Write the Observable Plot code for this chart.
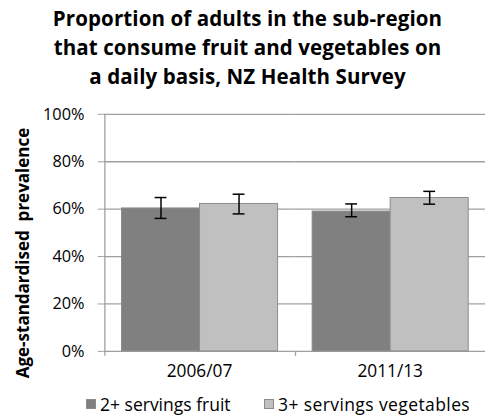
<!DOCTYPE html>
<html>
<head>
<meta charset="utf-8">
<script src="https://cdn.jsdelivr.net/npm/d3@7"></script>
<script src="https://cdn.jsdelivr.net/npm/@observablehq/plot@0.6"></script>
<style>
  html, body { margin: 0; padding: 0; background: #fff; overflow: hidden; }
  #wrap { position: relative; width: 485px; height: 419px; overflow: hidden; font-family: "Open Sans", Lato, sans-serif; color: #000; }
  #title { position: absolute; left: 0; top: 4px; width: 495px; text-align: center; font-weight: bold; font-size: 20.5px; line-height: 29px; letter-spacing: 0.1px; }
  #ylabel { position: absolute; left: 22px; top: 253px; transform: translate(-50%, -50%) rotate(-90deg); white-space: pre; font-weight: bold; font-size: 17px; }
  #chart { position: absolute; left: 0; top: 100px; }
  #legend { position: absolute; top: 393px; left: 0; width: 485px; height: 24px; font-size: 17.5px; line-height: 22px; white-space: nowrap; }
  .item { position: absolute; top: 0; display: flex; align-items: center; }
  .sw { display: inline-block; width: 8px; height: 8px; margin-right: 4px; border: 1px solid #8c8c8c; }
</style>
</head>
<body>
<div id="wrap">
  <div id="title">Proportion of adults in the sub-region<br>that consume fruit and vegetables on<br>a daily basis, NZ Health Survey</div>
  <div id="ylabel">Age-standardised  prevalence</div>
  <div id="chart"></div>
  <div id="legend"></div>
</div>
<script>
const periods = ["2006/07", "2011/13"];
const series = ["2+ servings fruit", "3+ servings vegetables"];
const colors = ["#808080", "#c0c0c0"];
// values (proportions) per period, per series
const fruitValues = [0.603, 0.590];
const vegValues = [0.622, 0.647];
const fruitLow = [0.561, 0.568];
const fruitHigh = [0.649, 0.622];
const vegLow = [0.580, 0.621];
const vegHigh = [0.663, 0.675];
const yTicks = [0, 0.2, 0.4, 0.6, 0.8, 1.0];

const data = [];
periods.forEach((p, i) => {
  data.push({period: p, series: series[0], value: fruitValues[i], lo: fruitLow[i], hi: fruitHigh[i]});
  data.push({period: p, series: series[1], value: vegValues[i], lo: vegLow[i], hi: vegHigh[i]});
});

const grid = "#a0a0a0";
const W = 491, ML = 105, MR = 0;
const xPadOuter = 0.216;
// band geometry within one facet, to put tick marks at the category boundaries
const facetWidth = (W - ML - MR) / periods.length;
const inner = d3.scaleBand().domain(series).range([0, facetWidth]).paddingInner(0).paddingOuter(xPadOuter);
const boundaryDx = -(inner(series[0]) + inner.bandwidth() / 2);

const chart = Plot.plot({
  width: W,
  height: 294,
  marginTop: 14,
  marginBottom: 40,
  marginLeft: ML,
  marginRight: MR,
  style: {fontFamily: "'Open Sans', Lato, sans-serif", fontSize: "16px", color: "#000", background: "transparent"},
  fx: {domain: periods, padding: 0, label: null},
  x: {domain: series, paddingInner: 0, paddingOuter: xPadOuter, axis: null},
  y: {domain: [0, 1], label: null},
  color: {domain: series, range: colors},
  marks: [
    Plot.ruleY(yTicks.slice(1), {stroke: grid, strokeWidth: 1.3}),
    Plot.ruleY([0], {stroke: grid, strokeWidth: 1.3}),
    // category boundary ticks below the axis
    Plot.ruleX(periods, {fx: d => d, x: () => series[0], dx: boundaryDx, stroke: grid, strokeWidth: 1.3, insetTop: 240, insetBottom: -5}),
    // y axis line (first facet only)
    Plot.ruleX([periods[0]], {fx: d => d, x: () => series[0], dx: boundaryDx, y1: 0, y2: 1, stroke: grid, strokeWidth: 1.3}),
    Plot.axisY({ticks: yTicks, tickFormat: d3.format(".0%"), tickSize: 6, tickPadding: 14, stroke: grid, fontSize: 16.5, label: null}),
    Plot.axisFx({anchor: "bottom", tickSize: 0, tickPadding: 14, fontSize: 17.5, label: null}),
    Plot.barY(data, {fx: "period", x: "series", y: "value", fill: "series", stroke: "#8c8c8c", strokeWidth: 1}),
    Plot.ruleX(data, {fx: "period", x: "series", y1: "lo", y2: "hi", stroke: "#000", strokeWidth: 1.5}),
    Plot.tickY(data, {fx: "period", x: "series", y: "lo", stroke: "#000", strokeWidth: 1.5, insetLeft: 33.5, insetRight: 33.5}),
    Plot.tickY(data, {fx: "period", x: "series", y: "hi", stroke: "#000", strokeWidth: 1.5, insetLeft: 33.5, insetRight: 33.5})
  ]
});
document.getElementById("chart").appendChild(chart);

const legend = document.getElementById("legend");
const lefts = [86, 264];
series.forEach((s, i) => {
  const it = document.createElement("div");
  it.className = "item";
  it.style.left = lefts[i] + "px";
  if (i === 1) it.style.letterSpacing = "0.4px";
  const sw = document.createElement("span");
  sw.className = "sw";
  sw.style.background = colors[i];
  it.appendChild(sw);
  it.appendChild(document.createTextNode(s));
  legend.appendChild(it);
});
</script>
</body>
</html>
